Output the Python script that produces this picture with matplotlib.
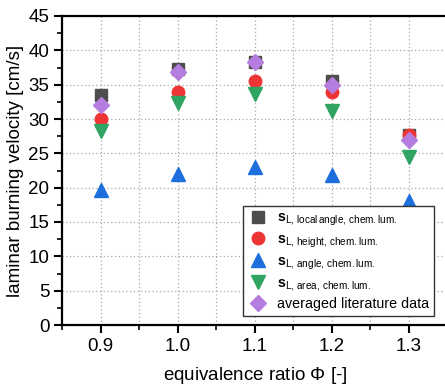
import matplotlib
matplotlib.use("Agg")
from matplotlib import pyplot as plt
from matplotlib.ticker import MultipleLocator

plt.rcParams["font.family"] = ["Liberation Sans", "DejaVu Sans"]
plt.rcParams["mathtext.fontset"] = "custom"
plt.rcParams["mathtext.rm"] = "Liberation Sans"
plt.rcParams["mathtext.bf"] = "Liberation Sans:bold"
plt.rcParams["mathtext.it"] = "Liberation Sans:italic"

phi = [0.9, 1.0, 1.1, 1.2, 1.3]
sl_local_angle = [33.5, 37.3, 38.3, 35.5, 27.6]
sl_height = [30.0, 33.9, 35.6, 34.0, 27.7]
sl_angle = [19.6, 22.0, 23.0, 21.8, 18.0]
sl_area = [28.3, 32.3, 33.7, 31.1, 24.5]
literature = [32.0, 36.9, 38.3, 34.9, 26.9]

labels = [
    r"$\mathbf{s}_{\mathrm{L,\,local\,angle,\,chem.lum.}}$",
    r"$\mathbf{s}_{\mathrm{L,\,height,\,chem.lum.}}$",
    r"$\mathbf{s}_{\mathrm{L,\,angle,\,chem.lum.}}$",
    r"$\mathbf{s}_{\mathrm{L,\,area,\,chem.lum.}}$",
    "averaged literature data",
]

fig = plt.figure(figsize=(4.45, 3.87), dpi=100)
ax = fig.add_axes([62 / 445, 62 / 387, 385.5 / 445, 309 / 387])

series = [sl_local_angle, sl_height, sl_angle, sl_area, literature]
markers = ["s", "o", "^", "v", "D"]
colors = ["#4d4d4d", "#ee3535", "#1c6fdc", "#2fa463", "#b57de0"]
sizes = [8, 9, 9.5, 9.5, 8]
for vals, m, c, ms, lab in zip(series, markers, colors, sizes, labels):
    ax.plot(phi, vals, linestyle="none", marker=m, color=c, markersize=ms, label=lab, zorder=3)

ax.set_xlim(0.85, 1.35)
ax.set_ylim(0, 45)
ax.xaxis.set_major_locator(MultipleLocator(0.1))
ax.xaxis.set_minor_locator(MultipleLocator(0.05))
ax.yaxis.set_major_locator(MultipleLocator(5))
ax.yaxis.set_minor_locator(MultipleLocator(2.5))
ax.set_xticks(phi)
ax.set_xticklabels(["0.9", "1.0", "1.1", "1.2", "1.3"])

grid_style = dict(color="#a8a8a8", linestyle=(0, (1, 2)), linewidth=0.9)
ax.grid(True, which="major", **grid_style)
ax.grid(True, which="minor", axis="x", **grid_style)
ax.set_axisbelow(True)

for s in ax.spines.values():
    s.set_linewidth(1.6)
ax.tick_params(which="major", direction="out", length=6, width=1.5, labelsize=13.5)
ax.tick_params(which="minor", direction="out", length=3.5, width=1.2)
ax.tick_params(axis="y", which="both", right=True)
ax.tick_params(axis="x", which="major", pad=3.5)
ax.tick_params(axis="y", which="major", pad=3)

ax.set_xlabel(r"equivalence ratio $\Phi$ [-]", fontsize=13.5, labelpad=7)
ax.set_ylabel("laminar burning velocity [cm/s]", fontsize=13.5, labelpad=3)

leg = ax.legend(loc="lower right", bbox_to_anchor=(434 / 445, 71 / 387),
                bbox_transform=fig.transFigure, borderaxespad=0, fontsize=10.3,
                fancybox=False, framealpha=1, edgecolor="#333333",
                handletextpad=0.7, labelspacing=0.3, borderpad=0.35,
                handlelength=1.3)
leg.get_frame().set_linewidth(1.0)

fig.savefig("out.png", dpi=100)
